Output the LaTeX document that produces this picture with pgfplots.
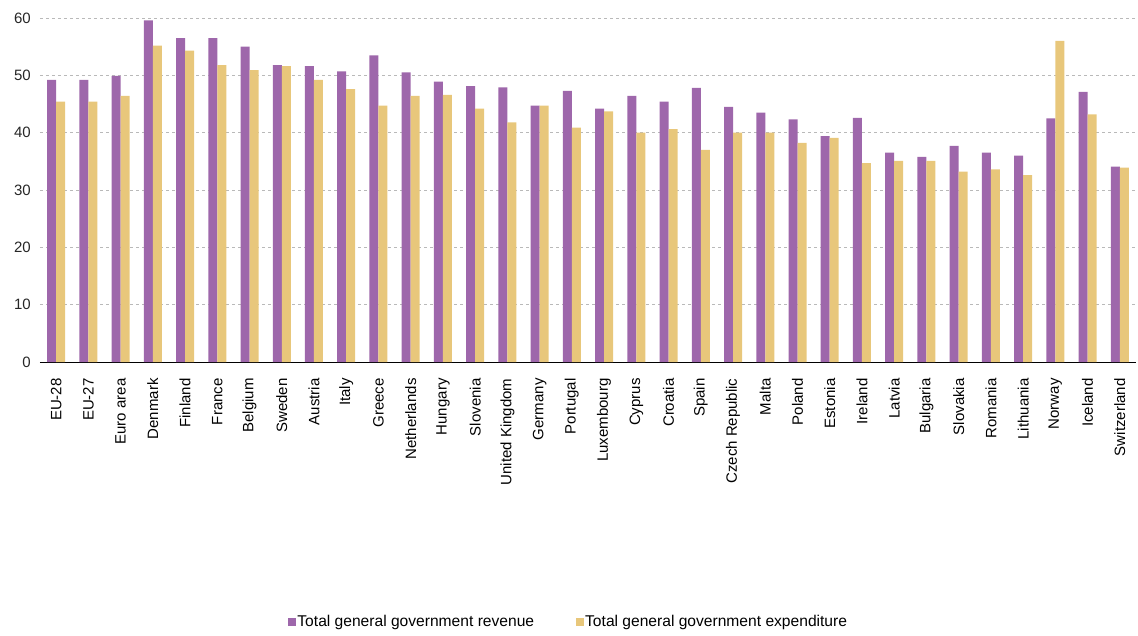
\documentclass[border=0pt]{standalone}
\usepackage{pgfplots}
\pgfplotsset{compat=1.18}
\usepackage{pgfplotstable}
\usepackage{fontspec}
\setmainfont{Liberation Sans}
\definecolor{rev}{HTML}{9E67AB}
\definecolor{expd}{HTML}{E8C77B}
\pgfplotstableread{
x rev exp
0 49.2 45.4
1 49.2 45.4
2 49.9 46.4
3 59.6 55.2
4 56.5 54.3
5 56.5 51.8
6 55.0 50.9
7 51.8 51.6
8 51.6 49.2
9 50.7 47.6
10 53.5 44.7
11 50.5 46.4
12 48.9 46.6
13 48.1 44.2
14 47.9 41.8
15 44.7 44.7
16 47.3 40.9
17 44.2 43.7
18 46.4 40.0
19 45.4 40.6
20 47.8 37.0
21 44.5 40.0
22 43.5 40.0
23 42.3 38.2
24 39.4 39.1
25 42.6 34.7
26 36.5 35.1
27 35.8 35.1
28 37.7 33.2
29 36.5 33.6
30 36.0 32.6
31 42.5 56.0
32 47.1 43.2
33 34.1 33.9
}\datatable
\begin{document}
\begin{tikzpicture}
\begin{axis}[
  scale only axis,
  width=1096pt, height=344pt,
  ybar, bar width=9pt,
  xmin=-0.5, xmax=33.5,
  ymin=0, ymax=60,
  ytick={0,10,...,60},
  xtick={0,...,33},
  xticklabels={EU-28,EU-27,Euro area,Denmark,Finland,France,Belgium,Sweden,Austria,Italy,Greece,Netherlands,Hungary,Slovenia,United Kingdom,Germany,Portugal,Luxembourg,Cyprus,Croatia,Spain,Czech Republic,Malta,Poland,Estonia,Ireland,Latvia,Bulgaria,Slovakia,Romania,Lithuania,Norway,Iceland,Switzerland},
  font=\fontsize{15}{17}\selectfont,
  /pgf/number format/assume math mode=true,
  axis x line*=bottom,
  axis y line*=left,
  y axis line style={draw=none},
  x axis line style={black, line width=1pt},
  ytick style={draw=none},
  major x tick style={draw=none},
  xticklabel style={rotate=90, anchor=east, inner sep=0pt, font=\fontsize{15}{17}\selectfont},
  xticklabel shift=12pt,
  yticklabel style={inner sep=0pt, xshift=-9pt, font=\fontsize{15}{17}\selectfont, text=black!85},
  extra x ticks={-0.5,0.5,...,33.5},
  extra x tick labels={},
  extra x tick style={grid=none, major tick length=6pt, tick align=outside, major tick style={draw=black, line width=0.8pt}},
  ymajorgrids,
  grid style={gray!55, dashed, line width=0.6pt},
  legend style={at={(0.482,-0.756)}, anchor=center, draw=none, fill=none,
    legend columns=2, font=\fontsize{15.6}{17}\selectfont,
    /tikz/every even column/.append style={column sep=40pt},
    nodes={inner sep=1.5pt}},
  legend cell align=left,
]
\addplot[draw=none, fill=rev, bar shift=-4.5pt,
  legend image code/.code={\fill[rev] (0pt,-4pt) rectangle (8pt,4pt);}]
  table[x=x, y=rev] {\datatable};
\addlegendentry{Total general government revenue}
\addplot[draw=none, fill=expd, bar shift=4.5pt,
  legend image code/.code={\fill[expd] (0pt,-4pt) rectangle (8pt,4pt);}]
  table[x=x, y=exp] {\datatable};
\addlegendentry{Total general government expenditure}
\end{axis}
\pgfresetboundingbox
\path (current axis.south west) ++(-40pt,-273pt) rectangle ++(1138pt,635pt);
\end{tikzpicture}
\end{document}
